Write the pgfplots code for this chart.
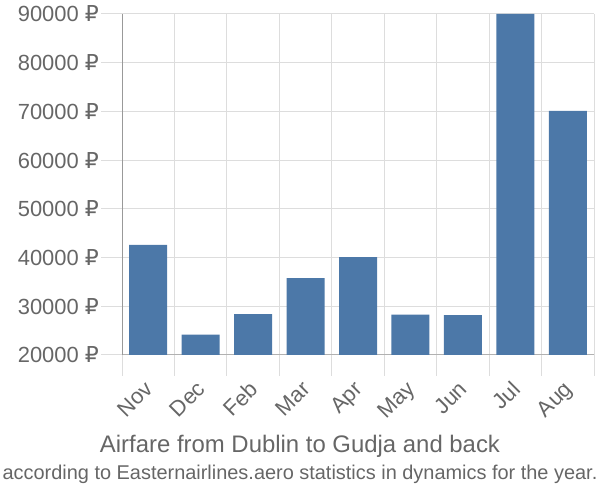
\documentclass[border=0pt]{standalone}
\usepackage{fontspec}
\setmainfont{Liberation Sans}
\newfontfamily\rub{DejaVu Sans}
\usepackage{pgfplots}
\pgfplotsset{compat=1.18}
\definecolor{barblue}{HTML}{4C78A8}
\definecolor{gridgrey}{HTML}{DDDDDD}
\definecolor{txtgrey}{HTML}{666666}
\newcommand{\R}{ {\rub\char"20BD}}
\begin{document}
\begin{tikzpicture}[x=1bp,y=1bp]
\useasboundingbox (0,0) rectangle (600,500);
\begin{axis}[
  at={(122bp,145bp)}, anchor=south west,
  scale only axis, width=472bp, height=341bp,
  xmin=-0.5, xmax=8.5, ymin=20000, ymax=90000,
  xtick={-0.5,0.5,...,8.5},
  x tick label as interval,
  xticklabels={Nov,Dec,Feb,Mar,Apr,May,Jun,Jul,Aug},
  ytick={20000,30000,...,90000},
  yticklabels={20000\R,30000\R,40000\R,50000\R,60000\R,70000\R,80000\R,90000\R},
  scaled y ticks=false,
  grid=major,
  grid style={gridgrey, line width=1bp},
  major tick length=21bp,
  tick align=outside,
  tick style={gridgrey, line width=1bp},
  axis x line*=bottom, axis y line*=left,
  x axis line style={draw=gridgrey!80!black, line width=1bp},
  y axis line style={draw=black!40, line width=1bp},
  separate axis lines,
  tick label style={font=\fontsize{22}{22}\selectfont, text=txtgrey},
  xticklabel style={rotate=45, anchor=north east, inner sep=1bp, xshift=-5bp, yshift=2bp},
  yticklabel style={inner sep=2bp},
  clip=false,
]
\addplot[ybar, bar width=38bp, fill=barblue, draw=none, bar shift=0pt] coordinates {
  (0,42600) (1,24200) (2,28400) (3,35800) (4,40100) (5,28300) (6,28200) (7,90000) (8,70100)
};
\end{axis}
\node[text=txtgrey, font=\fontsize{24}{24}\selectfont] at (300,54) {Airfare from Dublin to Gudja and back};
\node[text=txtgrey, font=\fontsize{20}{20}\selectfont] at (300,26) {according to Easternairlines.aero statistics in dynamics for the year.};
\end{tikzpicture}
\end{document}
